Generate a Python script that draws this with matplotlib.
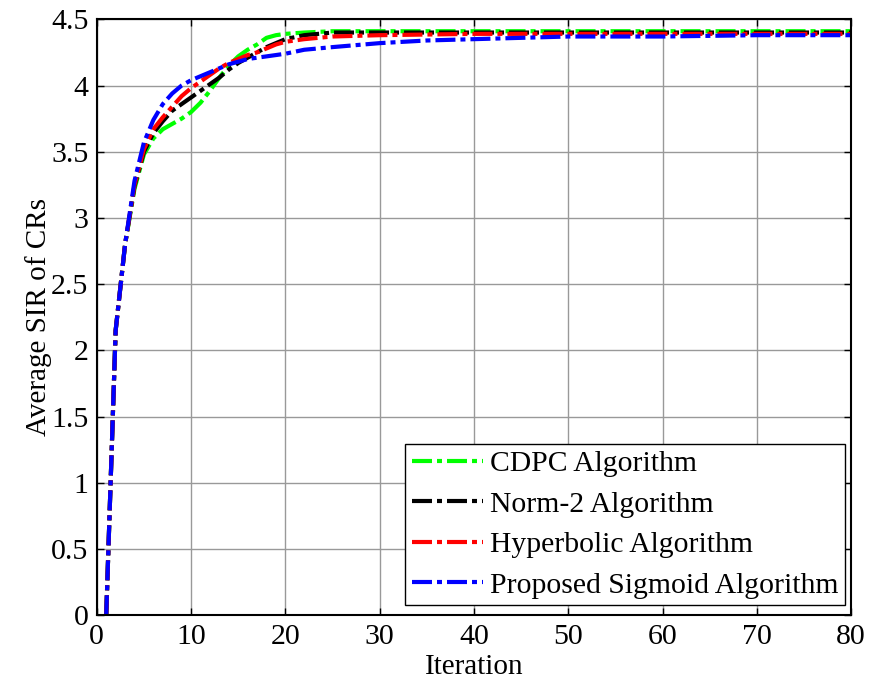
import matplotlib
matplotlib.use("Agg")
import matplotlib.pyplot as plt
from matplotlib.ticker import FuncFormatter

plt.rcParams["font.family"] = ["Liberation Serif", "DejaVu Serif"]

# iteration points and average SIR per algorithm
iters = [1, 2, 3, 4, 5, 6, 7, 8, 9, 10, 11, 12, 13, 14, 15, 16, 17, 18, 19, 20,
         22, 25, 30, 35, 40, 45, 50, 60, 70, 80]

cdpc = [0, 2.15, 2.8, 3.22, 3.48, 3.6, 3.67, 3.71, 3.75, 3.8, 3.87, 3.96, 4.06, 4.15,
        4.22, 4.27, 4.31, 4.36, 4.38, 4.39, 4.40, 4.41, 4.41, 4.41, 4.41, 4.41, 4.41,
        4.41, 4.41, 4.41]
norm2 = [0, 2.15, 2.8, 3.24, 3.5, 3.64, 3.73, 3.81, 3.86, 3.91, 3.96, 4.01, 4.06, 4.12,
         4.17, 4.21, 4.25, 4.29, 4.32, 4.35, 4.38, 4.40, 4.40, 4.40, 4.40, 4.40, 4.40,
         4.40, 4.40, 4.40]
hyperbolic = [0, 2.15, 2.8, 3.25, 3.52, 3.67, 3.76, 3.84, 3.92, 3.98, 4.03, 4.08, 4.13,
              4.17, 4.2, 4.23, 4.25, 4.28, 4.31, 4.33, 4.35, 4.37, 4.38, 4.385, 4.39,
              4.39, 4.39, 4.39, 4.39, 4.39]
sigmoid = [0, 2.15, 2.8, 3.28, 3.57, 3.74, 3.86, 3.94, 4.0, 4.04, 4.07, 4.1, 4.13, 4.16,
           4.18, 4.2, 4.21, 4.22, 4.23, 4.24, 4.27, 4.29, 4.32, 4.34, 4.35, 4.36, 4.37,
           4.37, 4.38, 4.38]

labels = ["CDPC Algorithm", "Norm-2 Algorithm", "Hyperbolic Algorithm",
          "Proposed Sigmoid Algorithm"]
colors = ["#00ff00", "#000000", "#ff0000", "#0000ff"]

fig = plt.figure(figsize=(8.72, 6.89), dpi=100)
ax = fig.add_axes([0.111, 0.107, 0.865, 0.865])

dash = (0, (4.8, 1.2, 1.2, 1.2))
for series, label, color in zip([cdpc, norm2, hyperbolic, sigmoid], labels, colors):
    ax.plot(iters, series, color=color, linestyle=dash, linewidth=3, label=label)

ax.set_xlim(0, 80)
ax.set_ylim(0, 4.5)
ax.set_xticks(range(0, 81, 10))
ax.set_yticks([i * 0.5 for i in range(10)])
ax.yaxis.set_major_formatter(FuncFormatter(lambda v, _: f"{v:g}"))
ax.grid(True, color="#999999", linewidth=1)
ax.tick_params(direction="in", top=True, right=True, labelsize=21.5, length=5, width=1, pad=6)
for s in ax.spines.values():
    s.set_linewidth(1.5)

ax.set_xlabel("Iteration", fontsize=21, labelpad=3)
ax.set_ylabel("Average SIR of CRs", fontsize=21, labelpad=-1)

leg = ax.legend(loc="lower right", fontsize=21.3, handlelength=2.4, handletextpad=0.25,
                borderpad=0.22, labelspacing=0.47, borderaxespad=0, fancybox=False,
                framealpha=1, edgecolor="black", bbox_to_anchor=(0.992, 0.0168))
leg.get_frame().set_linewidth(1)

fig.savefig("out.png", dpi=100)
